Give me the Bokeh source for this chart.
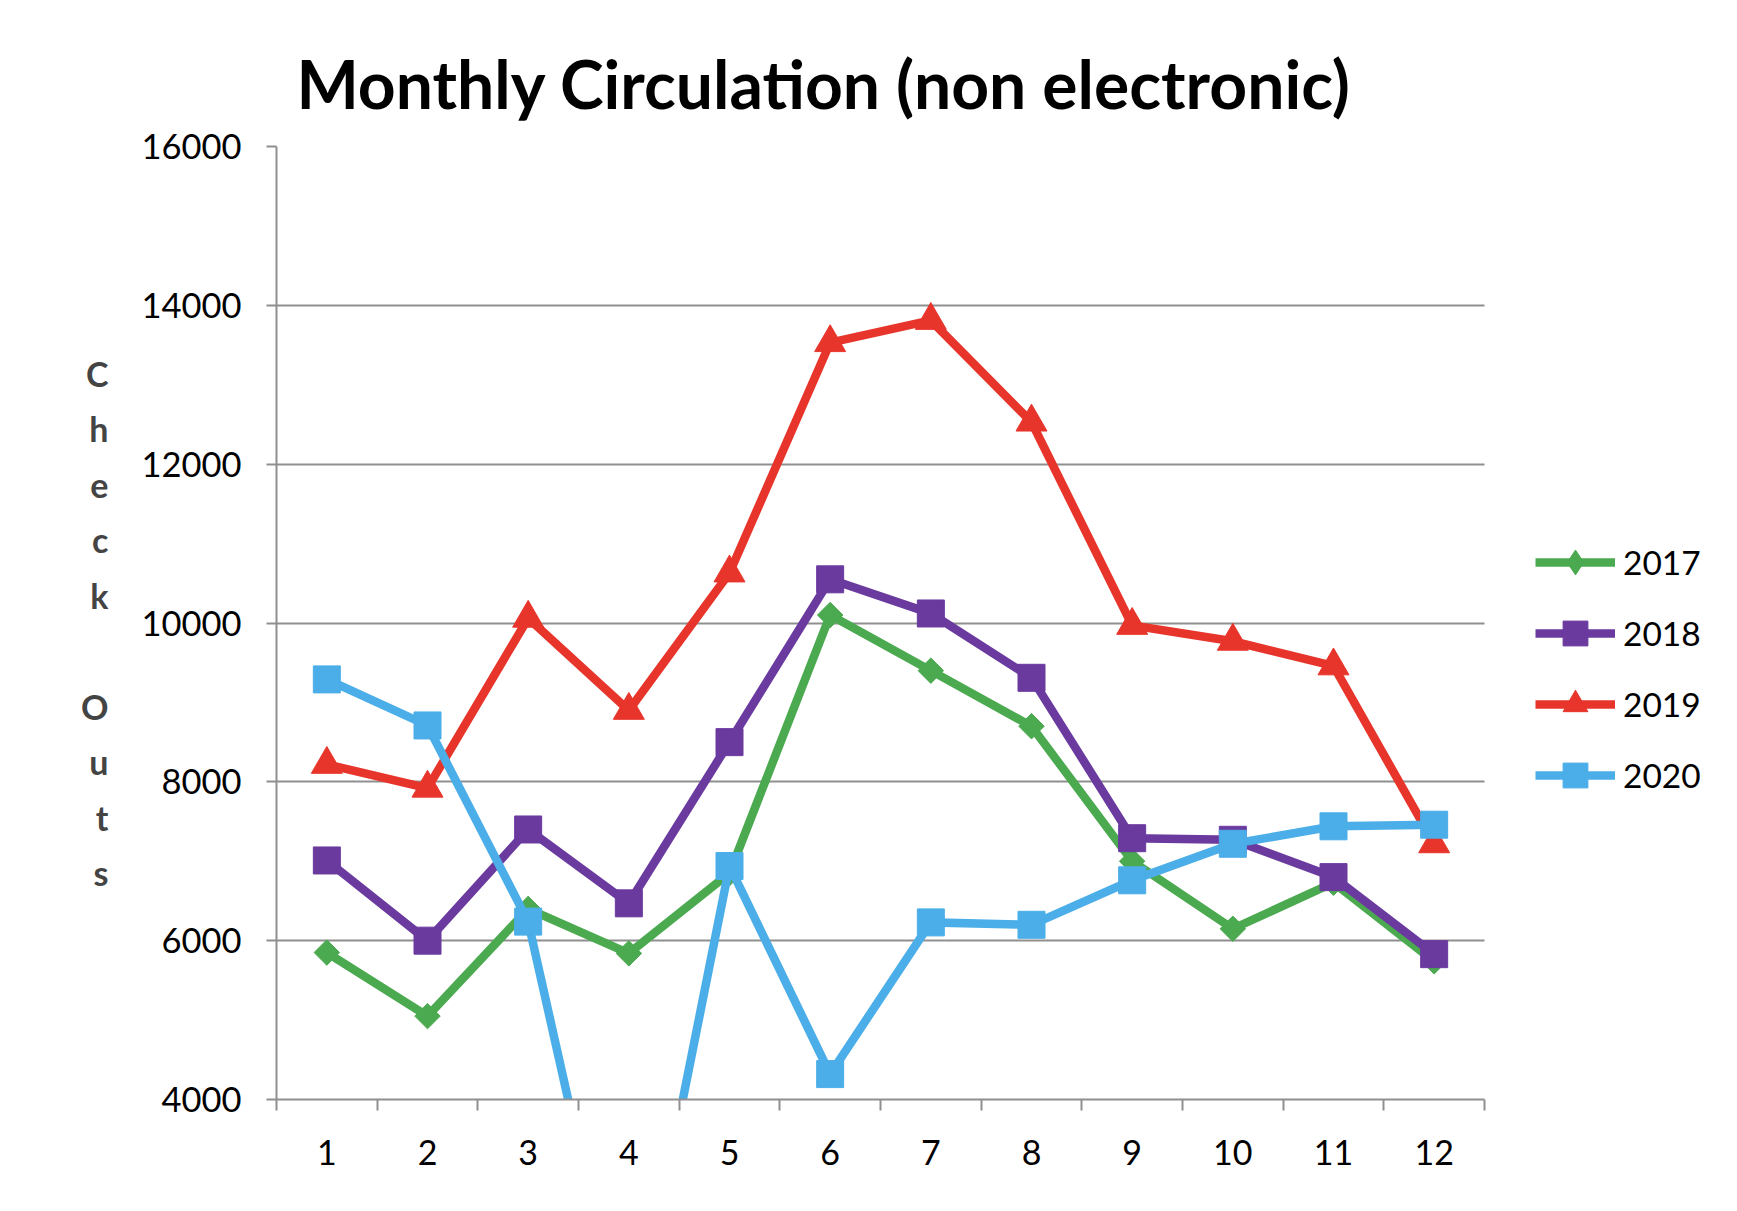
from bokeh.plotting import figure
from bokeh.models import FixedTicker, Legend, LegendItem, Range1d
from bokeh.embed import file_html
from bokeh.resources import INLINE
import math

# ---- data ----
months = list(range(1, 13))
month_labels = [str(m) for m in months]
series_names = ["2017", "2018", "2019", "2020"]
v2017 = [5850, 5050, 6400, 5840, 6850, 10100, 9400, 8700, 7000, 6150, 6730, 5740]
v2018 = [7010, 6000, 7400, 6470, 8500, 10550, 10120, 9310, 7290, 7270, 6800, 5830]
v2019 = [8220, 7920, 10060, 8900, 10630, 13530, 13810, 12530, 9970, 9770, 9460, 7220]
v2020 = [9290, 8710, 6240, 600, 6940, 4320, 6230, 6200, 6760, 7220, 7440, 7460]
y_ticks = [4000, 6000, 8000, 10000, 12000, 14000, 16000]
title_text = "Monthly Circulation (non electronic)"
y_label = "Check Outs"

series_values = [v2017, v2018, v2019, v2020]
colors = ["#4BAA50", "#6A3A9F", "#E8352B", "#4BAEE8"]
markers = ["square", "square", "triangle", "square"]
marker_sizes = [18, 27, 31, 27]
marker_angles = [math.pi / 4, 0, 0, 0]
legend_markers = ["diamond", None, None, None]   # legend symbol when it differs from the plotted one

FONT = "Lato"
GRAY = "#8f8f8f"

# layout (pixels)
W, H = 1721, 1195
LEFT, TOP, BOTTOM, RIGHT = 276, 146, 96, 10
PLOT_W = 1208                      # width of the category area
frame_w = W - LEFT - RIGHT
x0, x1 = months[0] - 0.5, months[-1] + 0.5
x_end = x0 + (x1 - x0) * frame_w / PLOT_W   # extra room on the right for the legend

p = figure(width=W, height=H, output_backend="svg", toolbar_location=None,
           x_range=Range1d(x0, x_end), y_range=Range1d(y_ticks[0], y_ticks[-1]),
           min_border_left=LEFT, min_border_right=RIGHT, min_border_top=TOP, min_border_bottom=BOTTOM)

p.title.text = title_text
p.title.text_font = FONT
p.title.text_font_style = "bold"
p.title.text_font_size = "66px"
p.title.text_color = "black"
p.title.align = "left"
p.title.offset = 20
p.title.standoff = 47

p.outline_line_color = None
p.background_fill_color = "white"
p.border_fill_color = "white"

# x axis: labels at months, tick marks at category boundaries
boundaries = [m - 0.5 for m in months] + [months[-1] + 0.5]
p.xaxis.bounds = (x0, x1)
p.xaxis.ticker = FixedTicker(ticks=months, minor_ticks=boundaries)
p.xaxis.major_label_overrides = {m: l for m, l in zip(months, month_labels)}
p.xaxis.major_tick_out = 0
p.xaxis.major_tick_in = 0
p.xaxis.minor_tick_out = 11
p.xaxis.minor_tick_in = 0
p.xaxis.minor_tick_line_color = GRAY
p.xaxis.minor_tick_line_width = 2
p.xaxis.axis_line_color = GRAY
p.xaxis.axis_line_width = 2
p.xaxis.major_label_text_font = FONT
p.xaxis.major_label_text_font_size = "34px"
p.xaxis.major_label_text_color = "black"
p.xaxis.major_label_standoff = 29

p.yaxis.ticker = FixedTicker(ticks=y_ticks, minor_ticks=[])
p.yaxis.major_tick_out = 10
p.yaxis.major_tick_in = 0
p.yaxis.major_tick_line_color = GRAY
p.yaxis.major_tick_line_width = 2
p.yaxis.minor_tick_line_color = None
p.yaxis.axis_line_color = GRAY
p.yaxis.axis_line_width = 2
p.yaxis.major_label_text_font = FONT
p.yaxis.major_label_text_font_size = "34.5px"
p.yaxis.major_label_text_color = "black"
p.yaxis.major_label_standoff = 25
p.yaxis.axis_label = "\n".join(list(y_label))
p.yaxis.axis_label_orientation = "horizontal"
p.yaxis.axis_label_text_font = FONT
p.yaxis.axis_label_text_font_style = "bold"
p.yaxis.axis_label_text_font_size = "34px"
p.yaxis.axis_label_text_line_height = 1.352
p.yaxis.axis_label_text_align = "center"
p.yaxis.axis_label_standoff = 30

p.xgrid.visible = False
p.ygrid.ticker = FixedTicker(ticks=y_ticks)
p.ygrid.grid_line_color = GRAY
p.ygrid.grid_line_width = 2
try:
    p.ygrid.cross_bounds = (x0, x1)
except Exception:
    pass

items = []
for name, vals, col, mk, ms, ang, lmk in zip(series_names, series_values, colors, markers,
                                             marker_sizes, marker_angles, legend_markers):
    lr = p.line(months, vals, line_color=col, line_width=8.5, line_join="miter")
    legend_rs = [lr]
    if lmk is not None:
        # legend symbol, drawn underneath (fully covered by) the plotted marker
        lsr = p.scatter(months, vals, marker=lmk, size=ms * 1.3, fill_color=col, line_color=col)
        legend_rs.append(lsr)
    sr = p.scatter(months, vals, marker=mk, size=ms, angle=ang, fill_color=col, line_color=col)
    if lmk is None:
        legend_rs.append(sr)
    items.append(LegendItem(label=name, renderers=legend_rs))

legend = Legend(items=items, location=(1259, 293), orientation="vertical",
                glyph_width=80, glyph_height=62, label_height=62, spacing=9,
                label_standoff=8, padding=0, margin=0,
                border_line_color=None, background_fill_alpha=0,
                label_text_font=FONT, label_text_font_size="33.5px", label_text_color="black")
p.add_layout(legend)

open("out.html", "w").write(file_html(p, INLINE))
